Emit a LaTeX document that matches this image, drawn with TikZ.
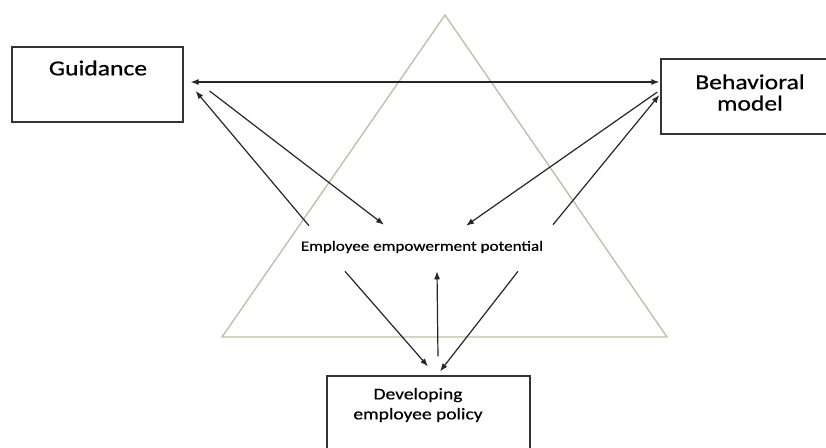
\documentclass[tikz,border=0pt]{standalone}
\usepackage{fontspec}
\setmainfont{Carlito}[FakeStretch=1.2,FakeBold=0.6]
\usetikzlibrary{arrows.meta}
\definecolor{trigreen}{RGB}{178,196,160}

\begin{document}
\begin{tikzpicture}[x=0.75pt,y=-0.75pt,>={Latex[length=6pt,width=4.5pt]},
		box/.style={draw=black!80,line width=0.9pt},
		link/.style={draw=black!85,line width=0.9pt,->}]
		\clip (0,0) rectangle (826,447);
		% triangle behind everything
		\draw[color=trigreen,line width=1pt] (445,15) -- (667,337) -- (222,337) -- cycle;

		\node[box,minimum width=128.25pt,minimum height=56.25pt] (guid) at (97.5,84.5) {};
		\node[font=\fontsize{16}{19}\selectfont] (guidtxt) at (98,68) {Guidance};
		\node[box,minimum width=129.75pt,minimum height=56.25pt] (behav) at (747.5,96.5) {};
		\node[font=\fontsize{16}{16}\selectfont,align=center] (behavtxt) at (750,92.5) {Behavioral\\model};
		\node[font=\fontsize{10.7}{13}\selectfont,minimum height=34.5pt] (emp) at (422,247) {Employee empowerment potential};
		\node[box,minimum width=152.25pt,minimum height=64.5pt] (dev) at (428.5,419) {};
		\node[font=\fontsize{12.2}{15}\selectfont,align=center] (devtxt) at (418,405) {Developing\\employee policy};

		\draw[link,<->] ([shift={(7,-2.5)}]guid.east) -- ([shift={(-1,-14.5)}]behav.west);
		\draw[link] ([shift={(-113,2)}]emp.north) -- ([shift={(12,6.5)}]guid.east);
		\draw[link] ([shift={(26,6.5)}]guid.east) -- ([shift={(-38,1)}]emp.north);
		\draw[link] ([shift={(-3,-4.5)}]behav.west) -- ([shift={(44,2)}]emp.north);
		\draw[link] ([shift={(131,1)}]emp.north) -- ([shift={(-1,-1.5)}]behav.west);
		\draw[link] ([shift={(-77,1)}]emp.south) -- ([shift={(-0.5,-9)}]dev.north);
		\draw[link] ([shift={(9.5,-19)}]dev.north) -- ([shift={(15,1)}]emp.south);
		\draw[link] ([shift={(96,1)}]emp.south) -- ([shift={(11.5,-4)}]dev.north);
	\end{tikzpicture}
\end{document}
